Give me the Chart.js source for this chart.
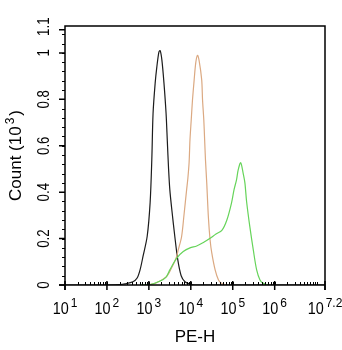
<!DOCTYPE html>
<html>
<head>
<meta charset="utf-8">
<script src="https://cdn.jsdelivr.net/npm/chart.js@4.4.1/dist/chart.umd.min.js"></script>
<style>
  html, body { margin: 0; padding: 0; background: #fff; }
  #wrap { width: 342px; height: 350px; }
</style>
</head>
<body>
<div id="wrap"><canvas id="myChart"></canvas></div>
<script>
// PE-H in decades (log10), count in thousands
const blackX = [1.0, 1.8, 2.3, 2.43, 2.62, 2.72, 2.79, 2.86, 2.96, 3.03, 3.07, 3.10, 3.15, 3.19, 3.24, 3.27, 3.31, 3.36, 3.41, 3.44, 3.47, 3.50, 3.55, 3.62, 3.69, 3.77, 3.86, 3.98, 4.1, 7.2];
const blackY = [0, 0, 0.002, 0.005, 0.014, 0.03, 0.065, 0.123, 0.21, 0.355, 0.54, 0.74, 0.87, 0.94, 1.005, 1.01, 0.97, 0.87, 0.74, 0.62, 0.5, 0.41, 0.32, 0.207, 0.108, 0.04, 0.014, 0.004, 0, 0];

const orangeX = [2.9, 3.03, 3.15, 3.42, 3.54, 3.65, 3.70, 3.78, 3.84, 3.90, 3.93, 3.96, 3.98, 4.01, 4.04, 4.08, 4.12, 4.16, 4.20, 4.26, 4.28, 4.31, 4.33, 4.35, 4.38, 4.42, 4.46, 4.50, 4.58, 4.66, 4.74, 4.84];
const orangeY = [0, 0.002, 0.007, 0.036, 0.073, 0.116, 0.151, 0.208, 0.306, 0.41, 0.46, 0.53, 0.625, 0.711, 0.797, 0.884, 0.96, 0.99, 0.965, 0.884, 0.797, 0.711, 0.625, 0.539, 0.44, 0.29, 0.194, 0.138, 0.065, 0.022, 0.007, 0];

const greenX = [2.79, 3.03, 3.27, 3.41, 3.50, 3.66, 3.82, 3.98, 4.14, 4.29, 4.46, 4.60, 4.74, 4.86, 4.97, 5.03, 5.09, 5.13, 5.19, 5.25, 5.29, 5.33, 5.41, 5.49, 5.57, 5.65, 5.73, 5.84];
const greenY = [0, 0.002, 0.017, 0.034, 0.065, 0.115, 0.144, 0.16, 0.168, 0.182, 0.201, 0.22, 0.235, 0.28, 0.353, 0.41, 0.453, 0.496, 0.527, 0.48, 0.44, 0.36, 0.248, 0.151, 0.065, 0.022, 0.007, 0];

const xTicks = [1, 2, 3, 4, 5, 6, 7.2];
const xTickExp = ['1', '2', '3', '4', '5', '6', '7.2'];
const yTicks = [0, 0.2, 0.4, 0.6, 0.8, 1, 1.1];
const yTickLabels = ['0', '0.2', '0.4', '0.6', '0.8', '1', '1.1'];

const FONT = '"Liberation Sans", Arial, sans-serif';

function pts(xs, ys) {
  return xs.map((v, i) => ({ x: v, y: ys[i] }));
}

// axes, ticks and labels drawn on top of the curves
const axisPlugin = {
  id: 'flowAxes',
  afterDatasetsDraw(chart) {
    const { ctx, chartArea: a, scales: { x, y } } = chart;
    ctx.save();
    ctx.strokeStyle = '#000';
    ctx.fillStyle = '#000';
    ctx.lineWidth = 1.5;

    // frame
    ctx.beginPath();
    ctx.moveTo(a.left, a.bottom + 5);
    ctx.lineTo(a.left, a.top);
    ctx.lineTo(a.right, a.top);
    ctx.lineTo(a.right, a.bottom + 5);
    ctx.moveTo(a.left - 6, a.bottom);
    ctx.lineTo(a.right, a.bottom);
    ctx.stroke();

    ctx.lineWidth = 1;
    // x minor ticks
    ctx.beginPath();
    for (let n = 1; n <= 7; n++) {
      for (let k = 2; k <= 10; k++) {
        const v = n + Math.log10(k);
        if (v >= 7.2) continue;
        const px = Math.round(x.getPixelForValue(v)) + 0.5;
        ctx.moveTo(px, a.bottom - 3);
        ctx.lineTo(px, a.bottom);
      }
    }
    ctx.stroke();
    // x major ticks
    ctx.lineWidth = 1.5;
    ctx.beginPath();
    xTicks.forEach(v => {
      const px = x.getPixelForValue(v);
      ctx.moveTo(px, a.bottom - 4);
      ctx.lineTo(px, a.bottom + 5);
    });
    ctx.stroke();

    // y minor ticks
    ctx.lineWidth = 1;
    ctx.beginPath();
    for (let v = 0.04; v < 1.11; v += 0.04) {
      const py = Math.round(y.getPixelForValue(v)) + 0.5;
      ctx.moveTo(a.left - 3, py);
      ctx.lineTo(a.left, py);
    }
    ctx.stroke();
    // y major ticks
    ctx.lineWidth = 1.5;
    ctx.beginPath();
    yTicks.forEach(v => {
      const py = y.getPixelForValue(v);
      ctx.moveTo(a.left - 6, py);
      ctx.lineTo(a.left, py);
    });
    ctx.stroke();

    // x tick labels: 10 with superscript exponent
    ctx.textBaseline = 'alphabetic';
    ctx.textAlign = 'left';
    const sx = 0.9;
    xTicks.forEach((v, i) => {
      const cx = x.getPixelForValue(v);
      ctx.font = '16px ' + FONT;
      const w1 = ctx.measureText('10').width * sx;
      ctx.font = '12px ' + FONT;
      const w2 = ctx.measureText(xTickExp[i]).width;
      const gap = 2;
      const left = cx - (w1 + gap + w2) / 2;
      ctx.save();
      ctx.translate(left, 313.5);
      ctx.scale(sx, 1);
      ctx.font = '16px ' + FONT;
      ctx.fillText('10', 0, 0);
      ctx.restore();
      ctx.font = '12px ' + FONT;
      ctx.fillText(xTickExp[i], left + w1 + gap, 306.5);
    });

    // y tick labels, rotated
    yTicks.forEach((v, i) => {
      const py = y.getPixelForValue(v) - (v === 1.1 ? 3 : 0);
      ctx.save();
      ctx.translate(44.5, py);
      ctx.rotate(-Math.PI / 2);
      ctx.scale(0.78, 1);
      ctx.font = '17px ' + FONT;
      ctx.textAlign = 'center';
      ctx.textBaseline = 'middle';
      ctx.fillText(yTickLabels[i], 0, 0);
      ctx.restore();
    });

    // x title
    ctx.font = '17px ' + FONT;
    ctx.textAlign = 'center';
    ctx.textBaseline = 'middle';
    ctx.fillText('PE-H', (a.left + a.right) / 2, 337);

    // y title
    ctx.save();
    ctx.translate(16.5, (a.top + a.bottom) / 2);
    ctx.rotate(-Math.PI / 2);
    ctx.textAlign = 'left';
    ctx.textBaseline = 'middle';
    ctx.font = '17px ' + FONT;
    const t1 = 'Count (10', t3 = ')';
    const w1 = ctx.measureText(t1).width;
    const w3 = ctx.measureText(t3).width;
    ctx.font = '12px ' + FONT;
    const w2 = ctx.measureText('3').width;
    const tot = w1 + 2 + w2 + 2 + w3;
    let p = -tot / 2;
    ctx.font = '17px ' + FONT;
    ctx.fillText(t1, p, 0);
    p += w1 + 2;
    ctx.font = '12px ' + FONT;
    ctx.fillText('3', p, -6);
    p += w2 + 2;
    ctx.font = '17px ' + FONT;
    ctx.fillText(t3, p, 0);
    ctx.restore();

    ctx.restore();
  }
};

function initChart() {
  const ctx = document.getElementById('myChart').getContext('2d');
  new Chart(ctx, {
    type: 'line',
    data: {
      datasets: [
        { label: 'green', data: pts(greenX, greenY), borderColor: '#66d45a', borderWidth: 1.2 },
        { label: 'orange', data: pts(orangeX, orangeY), borderColor: '#dba982', borderWidth: 1.2 },
        { label: 'black', data: pts(blackX, blackY), borderColor: '#1c1c1c', borderWidth: 1.2 }
      ]
    },
    options: {
      responsive: true,
      maintainAspectRatio: false,
      devicePixelRatio: 1,
      animation: false,
      layout: { padding: { left: 65, top: 26, right: 17, bottom: 65 } },
      elements: { point: { radius: 0 }, line: { tension: 0.3 } },
      plugins: { legend: { display: false }, tooltip: { enabled: false } },
      scales: {
        x: { type: 'linear', min: 1, max: 7.2, display: false },
        y: { type: 'linear', min: 0, max: 1.116, display: false }
      }
    },
    plugins: [axisPlugin]
  });
}

document.addEventListener('DOMContentLoaded', initChart);
</script>
</body>
</html>
